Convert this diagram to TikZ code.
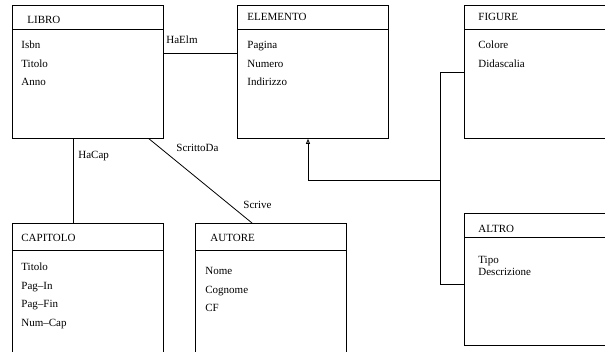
\documentclass[tikz,border=0pt]{standalone}
\usepackage{fontspec}
\setmainfont{Liberation Serif}
\usetikzlibrary{arrows.meta}
\begin{document}
\begin{tikzpicture}[x=1pt,y=-1pt,line width=0.8pt,
  entity/.style={draw,rectangle,anchor=north west,inner sep=0pt,minimum width=151pt},
  ttl/.style={anchor=base west,inner sep=0pt,font=\fontsize{11}{13}\selectfont},
  lbl/.style={anchor=base west,inner sep=0pt,font=\fontsize{11}{13}\selectfont}]
\useasboundingbox (0,0) rectangle (605,352);
\clip (0,0) rectangle (605,352);
% boxes
\node[entity,minimum height=133pt] (libro) at (12,5) {};
\node[entity,minimum height=133pt] (elemento) at (237,5) {};
\node[entity,minimum height=133pt,minimum width=170pt] (figure) at (464,5) {};
\node[entity,minimum height=132pt,minimum width=170pt] (altro) at (464,213) {};
\node[entity,minimum height=140pt] (capitolo) at (12,223) {};
\node[entity,minimum height=140pt] (autore) at (195,223) {};
% header lines
\foreach \b in {libro,elemento,figure,altro}
  \draw ([yshift=-24pt]\b.north west) -- ([yshift=-24pt]\b.north east);
\foreach \b in {capitolo,autore}
  \draw ([yshift=-27pt]\b.north west) -- ([yshift=-27pt]\b.north east);
% titles
\node[ttl] (tlibro) at (27,24) {LIBRO};
\node[ttl] (telemento) at (247,21) {ELEMENTO};
\node[ttl] (tfigure) at (478,21) {FIGURE};
\node[ttl] (taltro) at (478,233) {ALTRO};
\node[ttl] (tcapitolo) at (21,242) {CAPITOLO};
\node[ttl] (tautore) at (210,242) {AUTORE};
% attributes
\node[ttl] (l1) at (21,49) {Isbn};
\node[ttl] (l2) at (21,67.5) {Titolo};
\node[ttl] (l3) at (21,86) {Anno};
\node[ttl] (e1) at (247,49) {Pagina};
\node[ttl] (e2) at (247,67.5) {Numero};
\node[ttl] (e3) at (247,86) {Indirizzo};
\node[ttl] (f1) at (478,49) {Colore};
\node[ttl] (f2) at (478,67.5) {Didascalia};
\node[ttl] (a1) at (478,264) {Tipo};
\node[ttl] (a2) at (478,276) {Descrizione};
\node[ttl] (c1) at (21,271) {Titolo};
\node[ttl] (c2) at (21,289.5) {Pag–In};
\node[ttl] (c3) at (21,308) {Pag–Fin};
\node[ttl] (c4) at (21,326.5) {Num–Cap};
\node[ttl] (u1) at (205,275) {Nome};
\node[ttl] (u2) at (205,293.5) {Cognome};
\node[ttl] (u3) at (205,312) {CF};
% associations
\draw ([yshift=-48pt]libro.north east) -- ([yshift=-48pt]elemento.north west);
\node[lbl] (lhaelm) at (166,44) {HaElm};
\draw ([xshift=61pt]libro.south west) -- ([xshift=61pt]capitolo.north west);
\node[lbl] (lhacap) at (78,159) {HaCap};
\draw ([xshift=137pt]libro.south west) -- ([xshift=57pt]autore.north west);
\node[lbl] (lscritto) at (176,152) {ScrittoDa};
\node[lbl] (lscrive) at (243,209) {Scrive};
% generalization
\coordinate (j1) at (440,180);
\coordinate (j2) at (440,72);
\coordinate (j3) at (440,284);
\draw[-{Triangle[open,length=5pt,width=4pt]}] (j1) -| ([xshift=71pt]elemento.south west);
\draw (figure.west |- j2) -- (j2) -- (j3) -- (altro.west |- j3);
\end{tikzpicture}
\end{document}
